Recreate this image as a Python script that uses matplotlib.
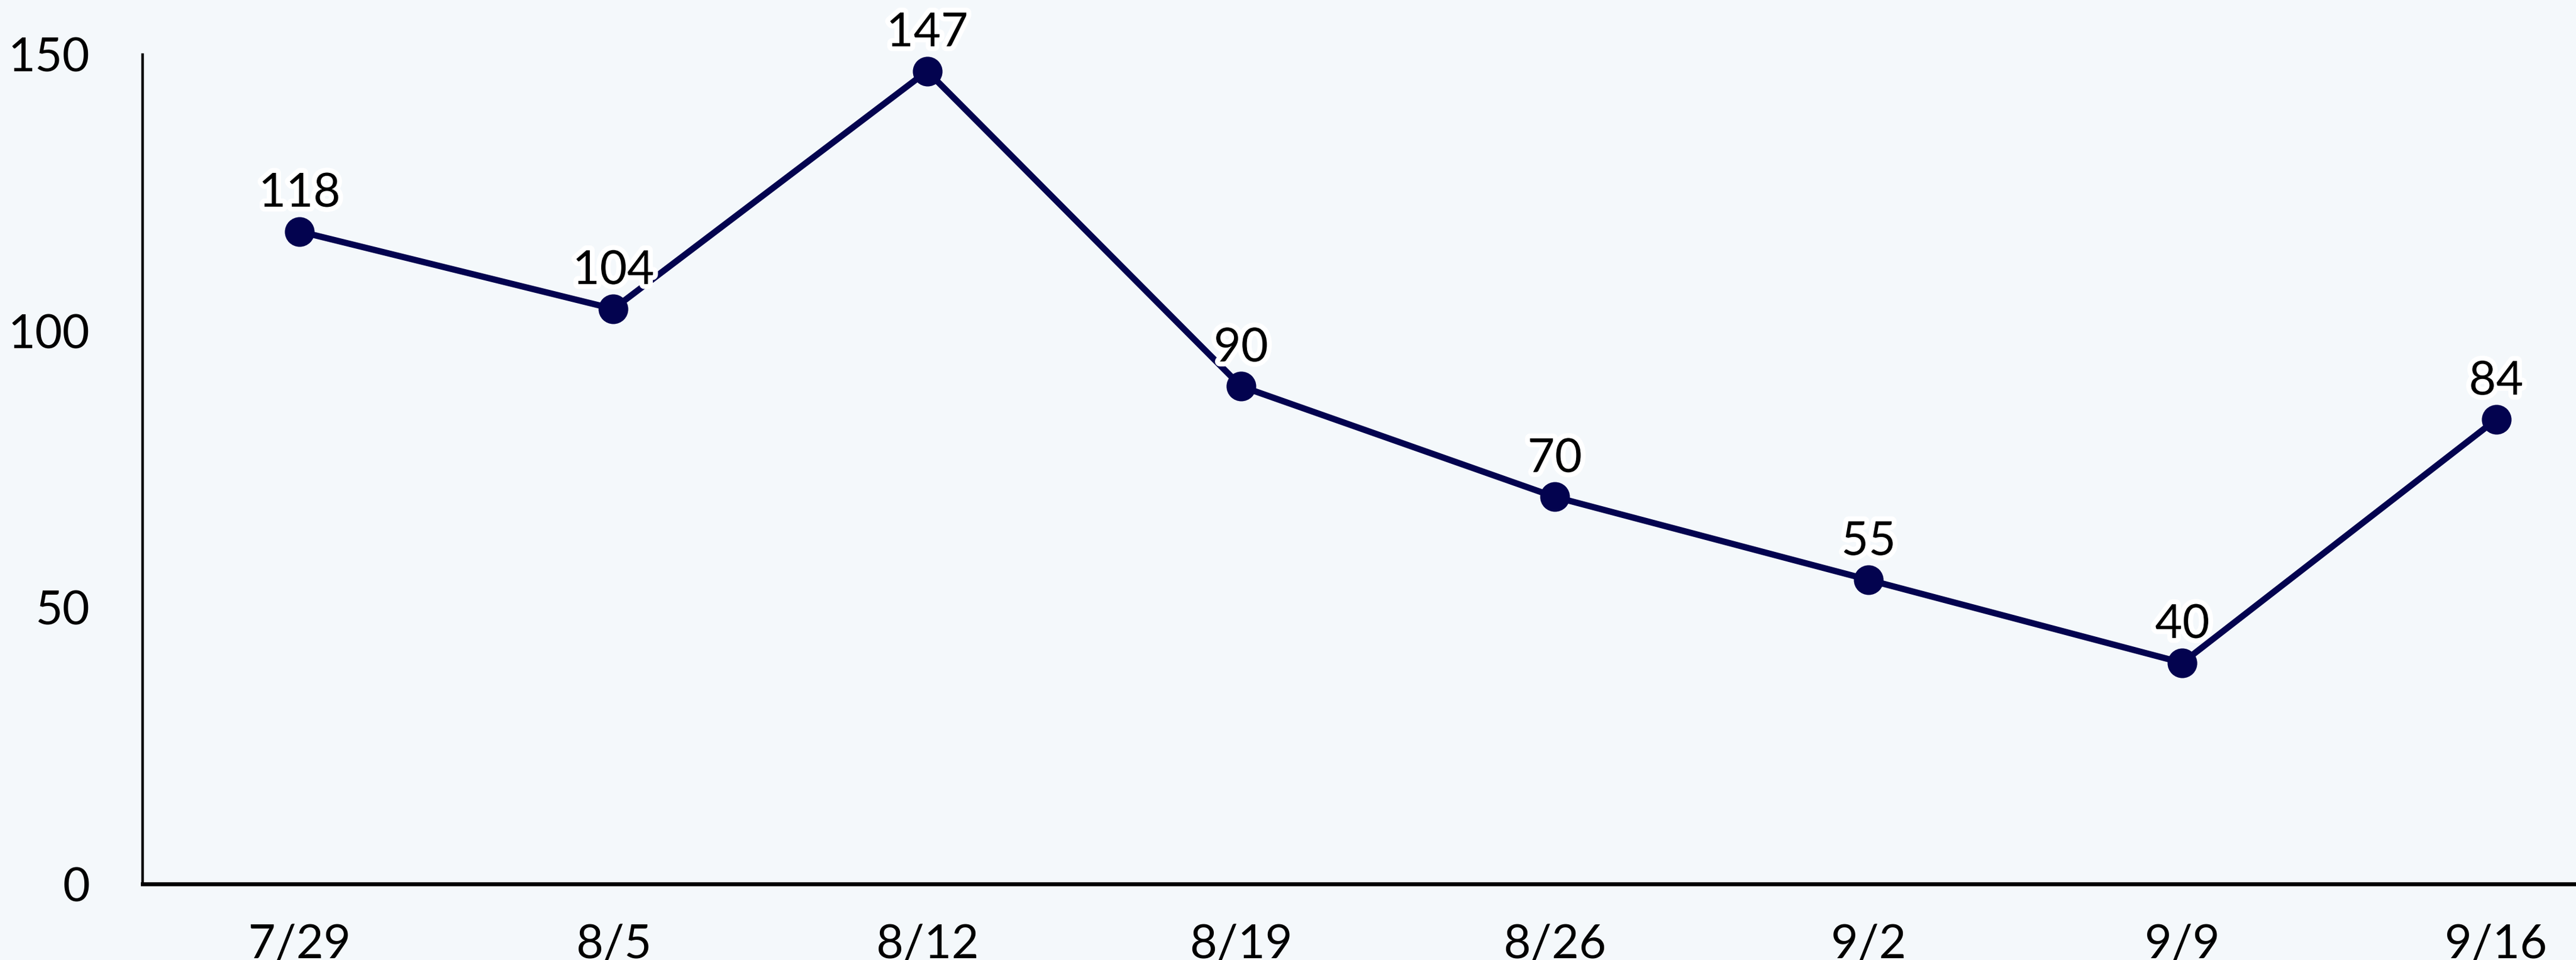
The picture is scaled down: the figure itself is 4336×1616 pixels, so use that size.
import matplotlib.pyplot as plt
import matplotlib.patheffects as pe

# Data
weeks = ['7/29', '8/5', '8/12', '8/19', '8/26', '9/2', '9/9', '9/16']
counts = [118, 104, 147, 90, 70, 55, 40, 84]

bg = '#f4f8fb'
navy = '#03034f'

plt.rcParams['font.family'] = ['Lato', 'DejaVu Sans']

fig = plt.figure(figsize=(21.68, 8.08), dpi=200, facecolor=bg)
ax = fig.add_axes([0.0554, 0.0792, 0.9745, 0.864], facecolor=bg)

x = list(range(len(weeks)))
ax.plot(x, counts, color=navy, lw=3.8, marker='o', ms=17, zorder=3)

for xi, v in zip(x, counts):
    ax.annotate(str(v), (xi, v), xytext=(0, 10), textcoords='offset points',
                ha='center', va='bottom', fontsize=28.5, color='black', zorder=4,
                path_effects=[pe.withStroke(linewidth=6, foreground='white')])

ax.set_xlim(-0.5, len(weeks) - 0.5)
ax.set_ylim(0, 150)
ax.set_xticks(x)
ax.set_xticklabels(weeks)
ax.set_yticks([0, 50, 100, 150])
ax.tick_params(axis='both', length=0, labelsize=28.5)
ax.tick_params(axis='y', pad=32)
ax.tick_params(axis='x', pad=24)

for s in ['top', 'right']:
    ax.spines[s].set_visible(False)
ax.spines['left'].set_linewidth(1.6)
ax.spines['bottom'].set_linewidth(2.4)
ax.spines['bottom'].set_zorder(5)

fig.savefig('out.png', dpi=200, facecolor=bg)
